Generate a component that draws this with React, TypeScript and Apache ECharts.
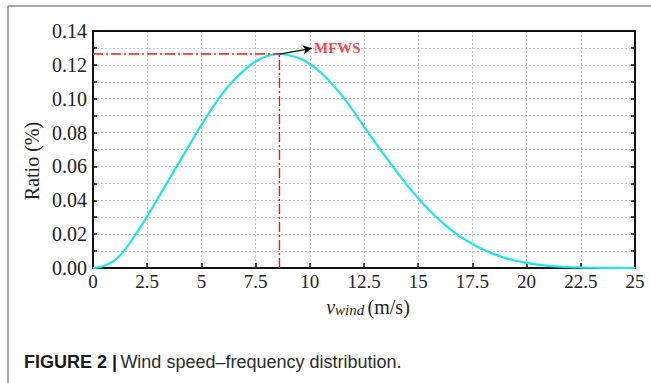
import React, { useEffect, useRef } from "react";
import * as echarts from "echarts";

// Wind speed (m/s) and the matching frequency ratio
const windSpeed = [
  0, 0.5, 1, 1.5, 2, 2.5, 3, 3.5, 4, 4.5, 5, 5.5, 6, 6.5, 7, 7.5, 8, 8.6, 9, 9.5,
  10, 10.5, 11, 11.5, 12, 12.5, 13, 13.5, 14, 14.5, 15, 15.5, 16, 16.5, 17, 17.5,
  18, 18.5, 19, 19.5, 20, 20.5, 21, 21.5, 22, 22.5, 23, 24, 25,
];
const ratio = [
  0, 0.0012, 0.0045, 0.0113, 0.0205, 0.0305, 0.0413, 0.0522, 0.063, 0.0738, 0.0845,
  0.0945, 0.1035, 0.111, 0.1172, 0.122, 0.1251, 0.1264, 0.1258, 0.124, 0.1205,
  0.1155, 0.1092, 0.1015, 0.0928, 0.0835, 0.0745, 0.0656, 0.057, 0.0488, 0.0412,
  0.0343, 0.0281, 0.0227, 0.0181, 0.0142, 0.0109, 0.0082, 0.006, 0.0043, 0.003,
  0.002, 0.0013, 0.0008, 0.0005, 0.0003, 0.00015, 0.00003, 0,
];

// Most frequent wind speed and its ratio
const mfwsSpeed = 8.6;
const mfwsRatio = 0.1264;
// Where the annotation arrow ends and its label starts
const mfwsLabelAt = [10.1, 0.1298];
const mfwsLabel = "MFWS";

const xTicks = ["0", "2.5", "5", "7.5", "10", "12.5", "15", "17.5", "20", "22.5", "25"];
const yTicks = ["0.00", "0.02", "0.04", "0.06", "0.08", "0.10", "0.12", "0.14"];

const yName = "Ratio (%)";
const caption = "Wind speed\u2013frequency distribution.";
const captionLead = "FIGURE 2 |";

const SERIF = "'Liberation Serif', 'Times New Roman', serif";
const SANS = "'Liberation Sans', Arial, sans-serif";

export default function App() {
  const ref = useRef<HTMLDivElement>(null);

  useEffect(() => {
    if (!ref.current) return;
    const chart = echarts.init(ref.current, null, { renderer: "svg" });

    const gridLine = {
      show: true,
      showMinLine: false,
      showMaxLine: false,
      lineStyle: { color: "#c4c4c4", type: [2, 2] as any, width: 1 },
    };
    const frame = { show: true, onZero: false, lineStyle: { color: "#111", width: 2 } };
    const tick = { show: true, inside: true, length: 4, lineStyle: { color: "#111", width: 1.5 } };

    const xBase = { type: "value" as const, min: 0, max: 25, interval: 2.5 };
    const yBase = { type: "value" as const, min: 0, max: 0.14, interval: 0.02 };

    chart.setOption({
      animation: false,
      backgroundColor: "#fff",
      grid: { left: 93, top: 31, right: 16, bottom: 115, containLabel: false },
      xAxis: [
        {
          ...xBase,
          position: "bottom",
          axisLine: frame,
          axisTick: { ...tick, length: 5 },
          axisLabel: {
            color: "#222",
            fontFamily: SERIF,
            fontSize: 19,
            margin: 4,
            formatter: (v: number) => xTicks[Math.round(v / 2.5)] ?? "",
          },
          splitLine: gridLine,
        },
        {
          ...xBase,
          position: "top",
          axisLine: frame,
          axisTick: { show: false },
          axisLabel: { show: false },
          splitLine: { show: false },
        },
      ],
      yAxis: [
        {
          ...yBase,
          position: "left",
          axisLine: frame,
          axisTick: tick,
          minorTick: { show: true, splitNumber: 2, length: 4, lineStyle: { color: "#111", width: 1.5 } },
          axisLabel: {
            color: "#222",
            fontFamily: SERIF,
            fontSize: 20,
            margin: 6,
            formatter: (v: number) => yTicks[Math.round(v / 0.02)] ?? "",
          },
          splitLine: gridLine,
          minorSplitLine: { show: true, lineStyle: { color: "#c4c4c4", type: [2, 2] as any, width: 1 } },
        },
        {
          ...yBase,
          position: "right",
          axisLine: frame,
          axisTick: tick,
          minorTick: { show: true, splitNumber: 2, length: 4, lineStyle: { color: "#111", width: 1.5 } },
          axisLabel: { show: false },
          splitLine: { show: false },
        },
      ],
      series: [
        {
          type: "line",
          data: windSpeed.map((w, i) => [w, ratio[i]]),
          smooth: 0.4,
          showSymbol: false,
          lineStyle: { color: "#19e6ee", width: 2.2 },
          z: 3,
        },
        {
          type: "line",
          data: [
            [0, mfwsRatio],
            [mfwsSpeed, mfwsRatio],
          ],
          showSymbol: false,
          lineStyle: { color: "#ff1414", width: 1.4, type: [10, 3, 2, 3] as any },
          z: 4,
        },
        {
          type: "line",
          data: [
            [mfwsSpeed, 0],
            [mfwsSpeed, mfwsRatio],
          ],
          showSymbol: false,
          lineStyle: { color: "#ff1414", width: 1.4, type: [10, 3, 2, 3] as any },
          z: 4,
        },
        {
          type: "scatter",
          data: [mfwsLabelAt],
          symbolSize: 0,
          label: {
            show: true,
            position: "right",
            distance: 2,
            formatter: mfwsLabel,
            color: "#ff1010",
            fontFamily: SERIF,
            fontWeight: "bold",
            fontSize: 15,
          },
          markLine: {
            silent: true,
            symbol: ["none", "arrow"],
            symbolSize: [7, 9],
            label: { show: false },
            lineStyle: { color: "#111", width: 1.3, type: "solid" },
            data: [[{ coord: [mfwsSpeed, mfwsRatio] }, { coord: mfwsLabelAt }]],
          },
          z: 5,
        },
      ],
      graphic: [
        // left and top frame of the figure panel
        {
          type: "line",
          shape: { x1: 8, y1: 6, x2: 651, y2: 6 },
          style: { stroke: "#8a8a8a", lineWidth: 1.5 },
        },
        {
          type: "line",
          shape: { x1: 8, y1: 6, x2: 8, y2: 383 },
          style: { stroke: "#8a8a8a", lineWidth: 1.5 },
        },
        {
          type: "text",
          x: 32,
          y: 161,
          rotation: Math.PI / 2,
          style: {
            text: yName,
            fontFamily: SERIF,
            fontSize: 20,
            fill: "#222",
            align: "center",
            verticalAlign: "middle",
          },
        },
        {
          type: "text",
          x: 368,
          y: 306,
          style: {
            text: "{v|v}{sub|wind} {u|(m/s)}",
            align: "center",
            verticalAlign: "middle",
            rich: {
              v: { fontFamily: SERIF, fontStyle: "italic", fontSize: 20, fill: "#222", verticalAlign: "bottom" },
              sub: {
                fontFamily: SERIF,
                fontStyle: "italic",
                fontSize: 15,
                fill: "#222",
                padding: [7, 0, 0, 0],
                verticalAlign: "bottom",
              },
              u: { fontFamily: SERIF, fontSize: 20, fill: "#222", verticalAlign: "bottom" },
            },
          },
        },
        {
          type: "text",
          x: 24,
          y: 362,
          style: {
            text: `{b|${captionLead}} {n|${caption}}`,
            verticalAlign: "middle",
            rich: {
              b: { fontFamily: SANS, fontWeight: "bold", fontSize: 18, fill: "#1a1a1a" },
              n: { fontFamily: SANS, fontSize: 18, fill: "#2a2a2a" },
            },
          },
        },
      ],
    });

    return () => chart.dispose();
  }, []);

  return (
    <div
      ref={ref}
      style={{ position: "fixed", left: 0, top: 0, width: 651, height: 383, background: "#fff" }}
    />
  );
}
